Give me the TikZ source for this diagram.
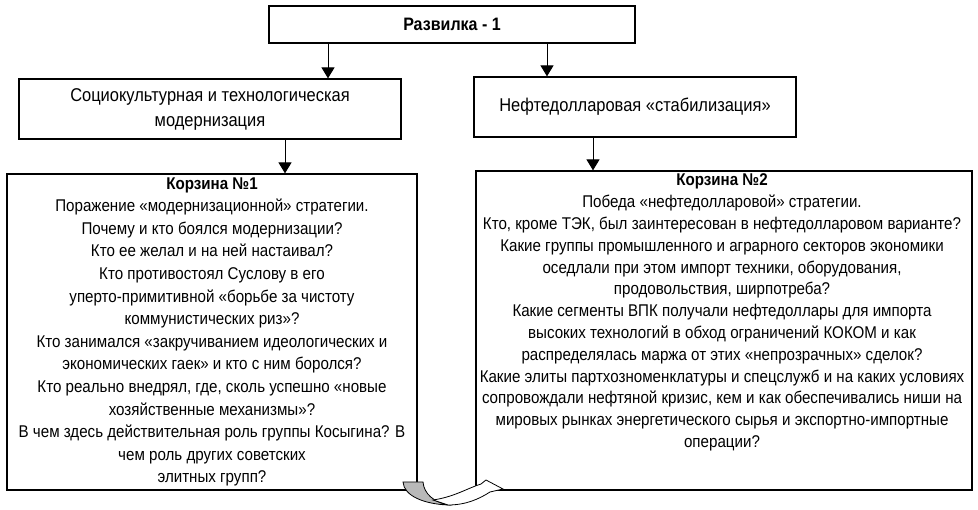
\documentclass[tikz,border=0pt]{standalone}
\usepackage{fontspec}
\setmainfont{Liberation Sans}[FakeStretch=0.89]
\usetikzlibrary{arrows.meta}

\begin{document}
\begin{tikzpicture}[x=1pt,y=-1pt,
		box/.style={draw,line width=1.2pt,rectangle,inner sep=0pt},
		arr/.style={line width=1pt,-{Triangle[length=11pt,width=13pt]}},
		txt/.style={align=center,font=\fontsize{17}{22.6}\selectfont}]
		\useasboundingbox (0,0) rectangle (978,510);
		\node[box,minimum width=366,minimum height=37,font=\bfseries\fontsize{18}{20}\selectfont] (razv) at (452,24.5){Развилка - 1};
		\node[box,txt,font=\fontsize{18.5}{25}\selectfont,minimum width=382,minimum height=60] (socio) at (210,109){Социокультурная и технологическая\\модернизация};
		\node[box,txt,font=\fontsize{18.5}{25}\selectfont,minimum width=322,minimum height=60] (neft) at (635,107){Нефтедолларовая «стабилизация»};
		\node[box,minimum width=410,minimum height=316] (korz1) at (212,332){};
		\node[box,minimum width=496,minimum height=319] (korz2) at (724,330.5){};
		\coordinate (a1) at (328,0);
		\coordinate (a2) at (547,0);
		\coordinate (a3) at (285,0);
		\coordinate (a4) at (593,0);
		\draw[arr] (razv.south -| a1) -- (socio.north -| a1);
		\draw[arr] (razv.south -| a2) -- (neft.north -| a2);
		\draw[arr] (socio.south -| a3) -- (korz1.north -| a3);
		\draw[arr] (neft.south -| a4) -- (korz2.north -| a4);
		\node[txt] (t1) at (korz1.center){\textbf{Корзина №1}\\
			Поражение «модернизационной» стратегии.\\
			Почему и кто боялся модернизации?\\
			Кто ее желал и на ней настаивал?\\
			Кто противостоял Суслову в его\\
			уперто-примитивной «борьбе за чистоту\\
			коммунистических риз»?\\
			Кто занимался «закручиванием идеологических и\\
			экономических гаек» и кто с ним боролся?\\
			Кто реально внедрял, где, сколь успешно «новые\\
			хозяйственные механизмы»?\\
			В чем здесь действительная роль группы Косыгина? В\\
			чем роль других советских\\
			элитных групп?};
		\node[txt,font=\fontsize{17}{21.8}\selectfont,anchor=north,xshift=-2pt,yshift=0pt] (t2) at (korz2.north){\textbf{Корзина №2}\\
			Победа «нефтедолларовой» стратегии.\\
			Кто, кроме ТЭК, был заинтересован в нефтедолларовом варианте?\\
			Какие группы промышленного и аграрного секторов экономики\\
			оседлали при этом импорт техники, оборудования,\\
			продовольствия, ширпотреба?\\
			Какие сегменты ВПК получали нефтедоллары для импорта\\
			высоких технологий в обход ограничений КОКОМ и как\\
			распределялась маржа от этих «непрозрачных» сделок?\\
			Какие элиты партхозноменклатуры и спецслужб и на каких условиях\\
			сопровождали нефтяной кризис, кем и как обеспечивались ниши на\\
			мировых рынках энергетического сырья и экспортно-импортные\\
			операции?};
		\draw[fill=gray!55,line width=0.8pt] (403,482) -- (423,482) .. controls (424,494) and (434,502) .. (448,505) .. controls (424,504) and (404,496) .. (403,482) -- cycle;
		\draw[fill=white,line width=0.8pt] (448,505) .. controls (466,505) and (479,499) .. (490,492) -- (503,489) -- (486,480) -- (481,484) .. controls (468,488) and (454,497) .. (433,500) -- cycle;
	\end{tikzpicture}
\end{document}
